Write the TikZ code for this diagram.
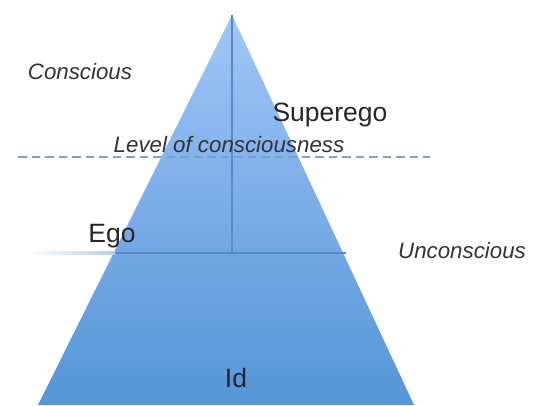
\documentclass[tikz,border=0pt]{standalone}
\usepackage{fontspec}
\setmainfont{Liberation Sans}
\begin{document}
\begin{tikzpicture}[x=1pt,y=1pt,
  bigtxt/.style={font=\fontsize{26.5}{30}\selectfont, text=black!85, anchor=base, inner sep=0pt},
  ittxt/.style={font=\fontsize{22.3}{26}\selectfont\itshape, text=black!80, anchor=base, inner sep=0pt},
  axisline/.style={draw=linecol, line width=2.3pt},
  levelline/.style={draw=dashcol, line width=2.8pt, dash pattern=on 8.5pt off 5pt}]
\definecolor{topcol}{RGB}{160,198,247}
\definecolor{midcol}{RGB}{122,172,232}
\definecolor{botcol}{RGB}{84,150,216}
\definecolor{linecol}{RGB}{88,138,200}
\definecolor{dashcol}{RGB}{122,162,206}
\definecolor{fadecol}{RGB}{185,205,232}
\useasboundingbox (0,0) rectangle (541,405);
% pyramid
\shade[top color=topcol, bottom color=botcol, middle color=midcol] (232,390) -- (414,0) -- (38,0) -- cycle;
\coordinate (apex) at (232,390);
\coordinate (axisfoot) at (232,152);
\coordinate (egoL) at (115,152);
\coordinate (egoR) at (346,152);
\coordinate (dashL) at (18,248);
\coordinate (dashR) at (430,248);
% faint extension of Ego line
\shade[left color=white, right color=fadecol] (28,150.5) rectangle (115,153.5);
\draw[axisline] (apex) -- (axisfoot);
\draw[axisline] (egoL) -- (egoR);
\draw[levelline] (dashL) -- (dashR);
% labels
\node[ittxt] (conscious) at (80,325) {Conscious};
\node[bigtxt] (superego) at (330,283) {Superego};
\node[ittxt] (level) at (229,252) {Level of consciousness};
\node[bigtxt] (ego) at (112,163) {Ego};
\node[ittxt] (unconscious) at (462,147) {Unconscious};
\node[bigtxt] (id) at (236,18) {Id};
\end{tikzpicture}
\end{document}
